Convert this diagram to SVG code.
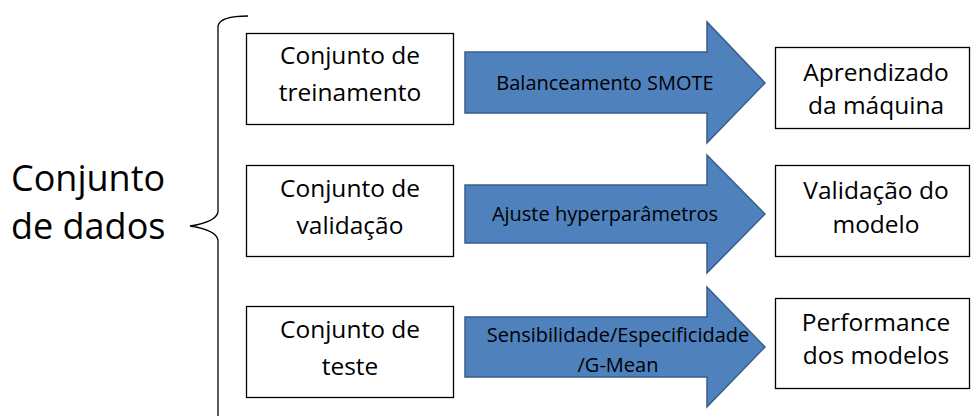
<svg xmlns="http://www.w3.org/2000/svg" width="971" height="416" viewBox="0 0 971 416">
<style>
.box{fill:#fff;stroke:#000;stroke-width:1.3}
.arr{fill:#4F81BD;stroke:#385D8A;stroke-width:1.5}
.t{font-family:"Open Sans","Liberation Sans",sans-serif;fill:#000;text-anchor:middle}
.bt{font-size:24.5px}
.at{font-size:20px}
.big{font-family:"Open Sans","Liberation Sans",sans-serif;font-size:36px;fill:#000}
</style>
<rect width="971" height="416" fill="#fff"/>
<g id="title">
<text class="big" x="11" y="191">Conjunto</text>
<text class="big" x="11" y="239">de dados</text>
</g>
<g id="brace">
<path d="M248,16 Q220,16 218,26 L218,212 Q216,222 190,226 Q216,230 218,240 L218,416" fill="none" stroke="#000" stroke-width="1.3"/>
</g>
<g id="n1"><rect class="box" x="246.5" y="33.5" width="207" height="91"/>
<text class="t bt" x="350" y="64">Conjunto de</text><text class="t bt" x="350" y="101">treinamento</text></g>
<g id="n2"><rect class="box" x="246.5" y="165.5" width="207" height="91"/>
<text class="t bt" x="350" y="197">Conjunto de</text><text class="t bt" x="350" y="234">validação</text></g>
<g id="n3"><rect class="box" x="246.5" y="306.5" width="207" height="91"/>
<text class="t bt" x="350" y="338">Conjunto de</text><text class="t bt" x="350" y="375">teste</text></g>
<g id="connectors">
<g id="a1"><path class="arr" d="M465,52 L707,52 L707,22 L765,83 L707,143 L707,113 L465,113 Z"/>
<text class="t at" x="605" y="90">Balanceamento SMOTE</text></g>
<g id="a2"><path class="arr" d="M465,185 L707,185 L707,155 L765,214 L707,273 L707,243 L465,243 Z"/>
<text class="t at" x="605" y="221">Ajuste hyperparâmetros</text></g>
<g id="a3"><path class="arr" d="M465,317 L707,317 L707,287 L765,347 L707,407 L707,377 L465,377 Z"/>
<text class="t at" x="618" y="342">Sensibilidade/Especificidade</text>
<text class="t at" x="618" y="372">/G-Mean</text></g>
</g>
<g id="r1"><rect class="box" x="775.5" y="47.5" width="194" height="81"/>
<text class="t bt" x="876" y="81">Aprendizado</text><text class="t bt" x="876" y="114">da máquina</text></g>
<g id="r2"><rect class="box" x="775.5" y="165.5" width="194" height="91"/>
<text class="t bt" x="876" y="199">Validação do</text><text class="t bt" x="876" y="233">modelo</text></g>
<g id="r3"><rect class="box" x="775.5" y="298.5" width="194" height="90"/>
<text class="t bt" x="876" y="331">Performance</text><text class="t bt" x="876" y="364">dos modelos</text></g>
</svg>
